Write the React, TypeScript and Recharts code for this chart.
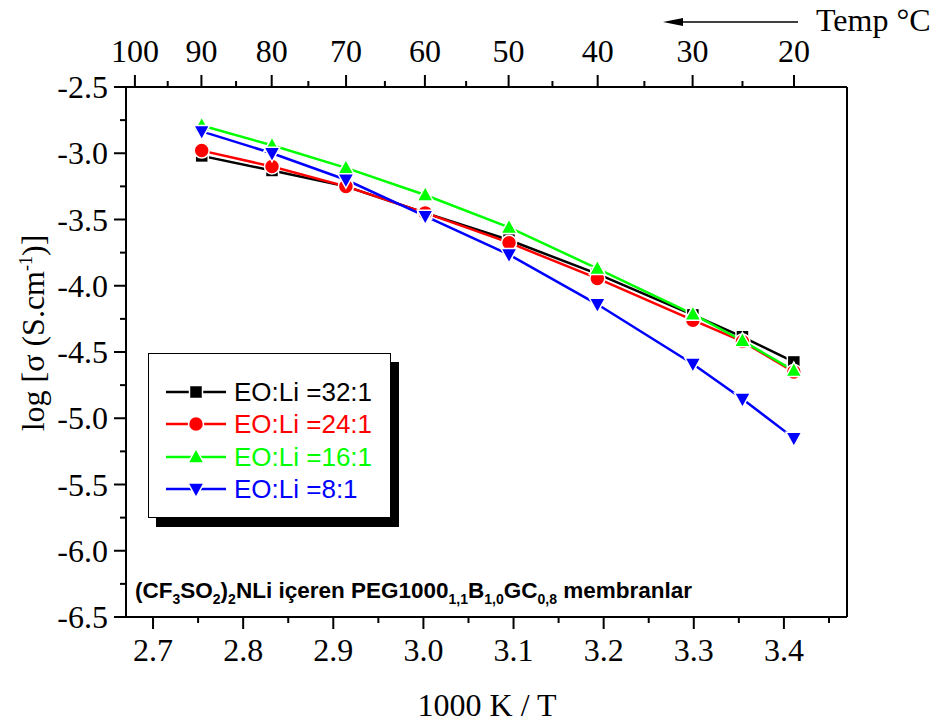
import React from 'react';
import { LineChart, Line, XAxis, YAxis, Legend } from 'recharts';

// 1000/T (K^-1) for measuring temps 90,80,70,60,50,40,30,25,20 °C
const invT = [2.754, 2.832, 2.914, 3.002, 3.095, 3.193, 3.299, 3.354, 3.411];

const eo32 = [-3.02, -3.13, -3.25, -3.45, -3.655, -3.91, -4.22, -4.385, -4.575];
const eo24 = [-2.98, -3.1, -3.25, -3.45, -3.675, -3.945, -4.26, -4.42, -4.65];
const eo16 = [-2.79, -2.94, -3.11, -3.315, -3.56, -3.87, -4.215, -4.415, -4.64];
const eo8 = [-2.835, -3.0, -3.2, -3.475, -3.765, -4.14, -4.59, -4.855, -5.15];

const seriesKeys = ['eo32', 'eo24', 'eo16', 'eo8'];
const seriesNames = ['EO:Li =32:1', 'EO:Li =24:1', 'EO:Li =16:1', 'EO:Li =8:1'];
const seriesColors = ['#000000', '#ff0000', '#00ff00', '#0000ff'];
const seriesShapes = ['square', 'circle', 'triangle', 'triangleDown'];

const xMajor = [2.7, 2.8, 2.9, 3.0, 3.1, 3.2, 3.3, 3.4];
const xMinor = [2.75, 2.85, 2.95, 3.05, 3.15, 3.25, 3.35, 3.45];
const yMajor = [-2.5, -3.0, -3.5, -4.0, -4.5, -5.0, -5.5, -6.0, -6.5];
const yMinor = [-2.75, -3.25, -3.75, -4.25, -4.75, -5.25, -5.75, -6.25];
const tempMajor = [100, 90, 80, 70, 60, 50, 40, 30, 20];
const tempMinor = [95, 85, 75, 65, 55, 45, 35, 25];

const toInv = (t: number) => 1000 / (t + 273.15);

const data = invT.map((x, i) => ({ x, eo32: eo32[i], eo24: eo24[i], eo16: eo16[i], eo8: eo8[i] }));

const serif = "'Liberation Serif', 'Times New Roman', serif";
const sans = "'Liberation Sans', Arial, sans-serif";

function Marker({ shape, cx, cy, color, halo = true }: any) {
  const st = halo ? { stroke: '#fff', strokeWidth: 1.5 } : {};
  if (shape === 'square') return <rect x={cx - 6.5} y={cy - 6.5} width={13} height={13} fill={color} {...st} />;
  if (shape === 'circle') return <circle cx={cx} cy={cy} r={7.5} fill={color} {...st} />;
  if (shape === 'triangle')
    return <polygon points={`${cx},${cy - 8.5} ${cx + 8},${cy + 6} ${cx - 8},${cy + 6}`} fill={color} {...st} />;
  return <polygon points={`${cx},${cy + 8.5} ${cx + 8},${cy - 6} ${cx - 8},${cy - 6}`} fill={color} {...st} />;
}

const dotFor = (shape: string, color: string) => (p: any) =>
  <Marker key={`${shape}-${p.index}`} shape={shape} cx={p.cx} cy={p.cy} color={color} />;

const BottomTick = (p: any) => {
  const v = p.payload.value;
  const major = xMajor.includes(v);
  return (
    <g>
      <line x1={p.x} x2={p.x} y1={p.y} y2={p.y + (major ? 12 : 6)} stroke="#000" strokeWidth={2} />
      {major && (
        <text x={p.x} y={p.y + 44} textAnchor="middle" fontFamily={serif} fontSize={32} fill="#000">
          {v.toFixed(1)}
        </text>
      )}
    </g>
  );
};

const TopTick = (p: any) => {
  const t = Math.round(1000 / p.payload.value - 273.15);
  const major = tempMajor.includes(t);
  return (
    <g>
      <line x1={p.x} x2={p.x} y1={p.y} y2={p.y - (major ? 12 : 6)} stroke="#000" strokeWidth={2} />
      {major && (
        <text x={p.x} y={p.y - 25} textAnchor="middle" fontFamily={serif} fontSize={32} fill="#000">
          {t}
        </text>
      )}
    </g>
  );
};

const LeftTick = (p: any) => {
  const v = p.payload.value;
  const major = yMajor.includes(v);
  return (
    <g>
      <line x1={p.x} x2={p.x - (major ? 12 : 6)} y1={p.y} y2={p.y} stroke="#000" strokeWidth={2} />
      {major && (
        <text x={p.x - 18} y={p.y} dy="0.35em" textAnchor="end" fontFamily={serif} fontSize={32} fill="#000">
          {v.toFixed(1)}
        </text>
      )}
    </g>
  );
};

const LegendBox = (props: any) => {
  const items = [...(props.payload || [])].sort(
    (a: any, b: any) => seriesKeys.indexOf(a.dataKey) - seriesKeys.indexOf(b.dataKey)
  );
  return (
    <div
      style={{
        width: 243,
        height: 165,
        boxSizing: 'border-box',
        border: '1.5px solid #000',
        background: '#fff',
        boxShadow: '8px 9px 0 #000',
        paddingTop: 22,
        fontFamily: sans,
        fontSize: 26,
      }}
    >
      {items.map((it: any, i: number) => {
        const idx = seriesKeys.indexOf(it.dataKey);
        const color = seriesColors[idx];
        return (
          <div key={i} style={{ display: 'flex', alignItems: 'center', height: 32.3, color }}>
            <svg width={60} height={20} style={{ marginLeft: 17, marginRight: 8 }}>
              <line x1={0} x2={60} y1={10} y2={10} stroke={color} strokeWidth={2.5} />
              <Marker shape={seriesShapes[idx]} cx={30} cy={10} color={color} />
            </svg>
            <span style={{ lineHeight: 1 }}>{it.value}</span>
          </div>
        );
      })}
    </div>
  );
};

export default function App() {
  const domain: [number, number] = [2.67, 3.47];
  return (
    <div style={{ position: 'absolute', left: 0, top: 0, width: 943, height: 722, background: '#fff' }}>
      <LineChart width={943} height={722} data={data} margin={{ top: 47, right: 95, bottom: 65, left: 66 }}>
        <XAxis
          dataKey="x"
          type="number"
          domain={domain}
          allowDataOverflow
          ticks={[...xMajor, ...xMinor].sort((a, b) => a - b)}
          interval={0}
          tick={BottomTick}
          tickLine={false}
          tickSize={0}
          tickMargin={0}
          height={40}
          axisLine={{ stroke: '#000', strokeWidth: 2 }}
        />
        <XAxis
          xAxisId="top"
          orientation="top"
          dataKey="x"
          type="number"
          domain={domain}
          allowDataOverflow
          ticks={[...tempMajor, ...tempMinor].map(toInv).sort((a, b) => a - b)}
          interval={0}
          tick={TopTick}
          tickLine={false}
          tickSize={0}
          tickMargin={0}
          height={40}
          axisLine={{ stroke: '#000', strokeWidth: 2 }}
        />
        <YAxis
          type="number"
          domain={[-6.5, -2.5]}
          allowDataOverflow
          ticks={[...yMajor, ...yMinor].sort((a, b) => a - b)}
          interval={0}
          tick={LeftTick}
          tickLine={false}
          tickSize={0}
          tickMargin={0}
          width={60}
          axisLine={{ stroke: '#000', strokeWidth: 2 }}
        />
        <YAxis
          yAxisId="right"
          orientation="right"
          type="number"
          domain={[-6.5, -2.5]}
          tick={false}
          tickLine={false}
          width={1}
          axisLine={{ stroke: '#000', strokeWidth: 2 }}
        />
        {seriesKeys.map((k, i) => (
          <Line
            key={k}
            dataKey={k}
            name={seriesNames[i]}
            stroke={seriesColors[i]}
            strokeWidth={2.5}
            dot={dotFor(seriesShapes[i], seriesColors[i])}
            activeDot={false}
            isAnimationActive={false}
          />
        ))}
        <Legend
          layout="vertical"
          align="center"
          verticalAlign="middle"
          content={LegendBox}
          wrapperStyle={{ left: 148, top: 353, width: 243, height: 165 }}
        />
      </LineChart>
      <svg width={943} height={722} style={{ position: 'absolute', left: 0, top: 0, pointerEvents: 'none' }}>
        <line x1={680} x2={798} y1={22} y2={22} stroke="#000" strokeWidth={1.5} />
        <polygon points="663,22 683,18 683,26" fill="#000" />
        <text x={816} y={31} fontFamily={serif} fontSize={32} fill="#000">Temp °C</text>
        <text x={487} y={716} textAnchor="middle" fontFamily={serif} fontSize={32} fill="#000">1000 K / T</text>
        <text transform="translate(44,333) rotate(-90)" textAnchor="middle" fontFamily={serif} fontSize={32} fill="#000">
          log [σ (S.cm<tspan dy={-12} fontSize={18}>-1</tspan><tspan dy={12}>)]</tspan>
        </text>
        <text x={135} y={598} fontFamily={sans} fontWeight="bold" fontSize={22.5} fill="#000">
          (CF<tspan dy={6} fontSize={14}>3</tspan>
          <tspan dy={-6}>SO</tspan><tspan dy={6} fontSize={14}>2</tspan>
          <tspan dy={-6}>)</tspan><tspan dy={6} fontSize={14}>2</tspan>
          <tspan dy={-6}>NLi içeren PEG1000</tspan><tspan dy={6} fontSize={14}>1,1</tspan>
          <tspan dy={-6}>B</tspan><tspan dy={6} fontSize={14}>1,0</tspan>
          <tspan dy={-6}>GC</tspan><tspan dy={6} fontSize={14}>0,8</tspan>
          <tspan dy={-6}> membranlar</tspan>
        </text>
      </svg>
    </div>
  );
}
